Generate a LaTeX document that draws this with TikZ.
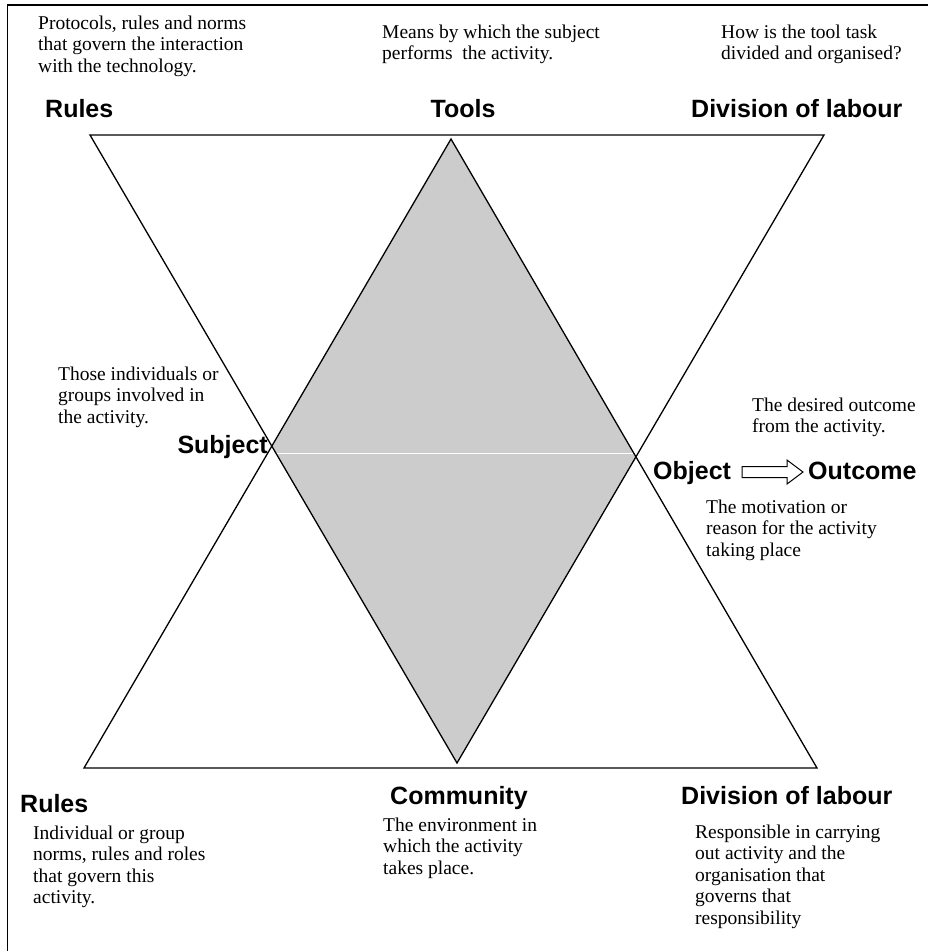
\documentclass[tikz,border=0pt]{standalone}
\usepackage{fontspec}
\setmainfont{Liberation Serif}
\setsansfont{Liberation Sans}
\usepackage{tikz}
\usetikzlibrary{arrows.meta}

\definecolor{diamondgray}{RGB}{204,204,204}

\tikzset{
  note/.style={anchor=north west, inner sep=0pt, align=left,
    font=\fontsize{19.5}{21.5}\selectfont},
  head/.style={inner sep=0pt, anchor=base west,
    font=\fontsize{25}{30}\selectfont\sffamily\bfseries},
  edge/.style={line width=1.3pt, line join=miter},
}

\begin{document}
\begin{tikzpicture}[x=1pt,y=-1pt]
 \useasboundingbox (0,0) rectangle (928,951);
 \draw[line width=1.3pt] (7.5,951)--(7.5,5)--(928,5);
 % the two triangles
 \coordinate (dl) at (90,135);
 \coordinate (dr) at (824,135);
 \coordinate (db) at (457,763);
 \coordinate (ul) at (84,768);
 \coordinate (ur) at (817,768);
 \coordinate (ut) at (451,139);
 \coordinate (subj) at (272,453);
 \coordinate (obj) at (636,453);
 \begin{scope}
  \clip (dl)--(dr)--(db)--cycle;
  \fill[diamondgray] (ul)--(ur)--(ut)--cycle;
  \draw[white, line width=1pt] (subj)--(obj);
 \end{scope}
 \draw[edge] (dl)--(dr)--(db)--cycle;
 \draw[edge] (ul)--(ur)--(ut)--cycle;
% top row
 \node[note] (protocols) at (38,14) {\strut Protocols, rules and norms\\that govern the interaction\\with the technology.};
 \node[note] (means) at (382,23) {\strut Means by which the subject\\performs~ the activity.};
 \node[note] (howis) at (721,23) {\strut How is the tool task\\divided and organised?};
 \node[head] (rulesTop) at (45,117) {Rules};
 \node[head, anchor=base] (tools) at (463,117) {Tools};
 \node[head] (divTop) at (691,117) {Division of labour};
% middle
 \node[note] (those) at (58,365) {\strut Those individuals or\\groups involved in\\the activity.};
 \node[head, anchor=base east] (subject) at (268,453) {Subject};
 \node[note] (desired) at (752,396) {\strut The desired outcome\\from the activity.};
 \node[head] (object) at (653,479) {Object};
 \node[head] (outcome) at (808,479) {Outcome};
 \node[note] (motiv) at (706,498) {\strut The motivation or\\reason for the activity\\taking place};
 \coordinate (arrtail) at (742,472);
 \coordinate (arrtip) at (803,472);
 \draw[line width=1pt, line join=miter] (arrtail) ++(0,-5.5) -- ++(45,0) -- ++(0,-6.5) -- (arrtip)
   -- ++(-16,12) -- ++(0,-6.5) -- ++(-45,0) -- cycle;
% bottom row
 \node[head] (rulesBot) at (20,812) {Rules};
 \node[head] (community) at (390,804) {Community};
 \node[head] (divBot) at (681,804) {Division of labour};
 \node[note] (individual) at (33,824) {\strut Individual or group\\norms, rules and roles\\that govern this\\activity.};
 \node[note] (environ) at (383,816) {\strut The environment in\\which the activity\\takes place.};
 \node[note] (respons) at (695,823) {\strut Responsible in carrying\\out activity and the\\organisation that\\governs that\\responsibility};
\end{tikzpicture}
\end{document}
